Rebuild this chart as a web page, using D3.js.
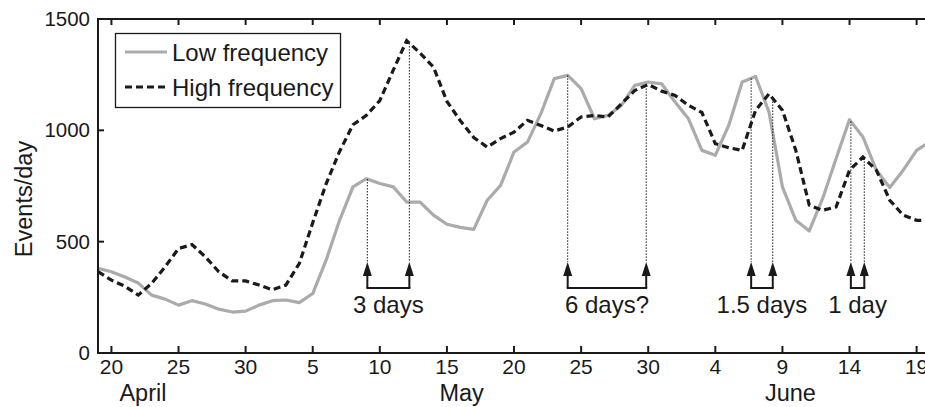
<!DOCTYPE html>
<html>
<head>
<meta charset="utf-8">
<script src="https://cdn.jsdelivr.net/npm/d3@7"></script>
<style>
  html, body { margin: 0; padding: 0; background: #fff; }
  svg { display: block; font-family: "Liberation Sans", Arial, sans-serif; }
</style>
</head>
<body>
<svg id="chart" width="925" height="407"></svg>
<script>
'use strict';

/* days counted from 20 April (= 0) */
const days = d3.range(-1, 62);

const lowFreq = [380, 365, 341, 314, 260, 242, 215, 235, 220, 197, 184, 188, 215, 235, 238, 226,
  267, 417, 596, 746, 783, 761, 746, 678, 678, 619, 578, 564, 555, 686, 753, 903,
  947, 1075, 1232, 1247, 1187, 1052, 1067, 1112, 1202, 1217, 1209, 1127, 1052, 910, 888, 1022,
  1217, 1242, 1082, 746, 596, 548, 694, 873, 1048, 970, 821, 743, 821, 910, 950];

const highFreq = [365, 327, 300, 260, 313, 387, 469, 487, 432, 365, 324, 324, 305, 284, 305, 402,
  585, 760, 905, 1025, 1067, 1134, 1270, 1403, 1347, 1284, 1130, 1043, 968, 925, 963, 992,
  1045, 1022, 997, 1015, 1060, 1067, 1060, 1119, 1179, 1206, 1176, 1157, 1112, 1080, 940, 922,
  910, 1090, 1164, 1090, 910, 664, 641, 656, 821, 880, 821, 686, 619, 596, 596];

const tickDays   = [0, 5, 10, 15, 20, 25, 30, 35, 40, 45, 50, 55, 60];
const tickLabels = ['20', '25', '30', '5', '10', '15', '20', '25', '30', '4', '9', '14', '19'];
const yTicks     = [0, 500, 1000, 1500];

const monthNames = ['April', 'May', 'June'];
const monthDays  = [2.35, 26.1, 50.6];

/* annotated lags: [start day, end day, label] */
const lagStart  = [19.07, 34.0, 47.67, 55.1];
const lagEnd    = [22.2, 39.85, 49.28, 56.1];
const lagLabels = ['3 days', '6 days?', '1.5 days', '1 day'];

const svg = d3.select('#chart');
const L = 98, T = 19, B = 353;
const x = d3.scaleLinear().domain([-1, 61]).range([L, L + 62 * 13.42]);
const y = d3.scaleLinear().domain([0, 1500]).range([B, T]);
const R = x(61);
const ink = '#1a1a1a';

svg.append('defs').append('clipPath').attr('id', 'plot-clip')
  .append('rect').attr('x', L).attr('y', T).attr('width', R - L).attr('height', B - T);

/* Series */
const line = d3.line().x((d, i) => x(days[i])).y(d => y(d));
const plot = svg.append('g').attr('clip-path', 'url(#plot-clip)');

plot.append('path').datum(lowFreq)
  .attr('d', line).attr('fill', 'none')
  .attr('stroke', '#a9abad').attr('stroke-width', 3.2).attr('stroke-linejoin', 'round');

plot.append('path').datum(highFreq)
  .attr('d', line).attr('fill', 'none')
  .attr('stroke', ink).attr('stroke-width', 3.2)
  .attr('stroke-dasharray', '7,4');

/* Lag annotations */
const valAt = (series, d) => {
  const i = Math.floor(d) + 1, f = d - Math.floor(d);
  return series[i] + (series[i + 1] - series[i]) * f;
};
const tipY = 262, baseY = 276, barY = 288;
const ann = svg.append('g');
lagLabels.forEach((lab, k) => {
  [[lagStart[k], lowFreq], [lagEnd[k], highFreq]].forEach(([d, s]) => {
    const xx = x(d);
    ann.append('line')
      .attr('x1', xx).attr('x2', xx).attr('y1', y(valAt(s, d))).attr('y2', tipY)
      .attr('stroke', ink).attr('stroke-width', 1).attr('stroke-dasharray', '1.5,1.5');
    ann.append('path')
      .attr('d', `M${xx},${tipY}L${xx - 4.5},${baseY}L${xx + 4.5},${baseY}Z`).attr('fill', ink);
    ann.append('line')
      .attr('x1', xx).attr('x2', xx).attr('y1', baseY - 1).attr('y2', barY)
      .attr('stroke', ink).attr('stroke-width', 2);
  });
  ann.append('line')
    .attr('x1', x(lagStart[k]) - 1).attr('x2', x(lagEnd[k]) + 1).attr('y1', barY).attr('y2', barY)
    .attr('stroke', ink).attr('stroke-width', 2);
  ann.append('text')
    .attr('x', (x(lagStart[k]) + x(lagEnd[k])) / 2).attr('y', 313)
    .attr('text-anchor', 'middle').style('font-size', '24px').attr('fill', ink)
    .text(lab);
});

/* Frame and ticks */
const frame = svg.append('g').attr('stroke', ink).attr('stroke-width', 2).attr('fill', 'none');
frame.append('path').attr('d', `M${R},${T}H${L}V${B}H${R}`);
tickDays.forEach(d => {
  frame.append('line').attr('x1', x(d)).attr('x2', x(d)).attr('y1', B).attr('y2', B - 7);
  frame.append('line').attr('x1', x(d)).attr('x2', x(d)).attr('y1', T).attr('y2', T + 6);
});
yTicks.forEach(v => {
  frame.append('line').attr('x1', L).attr('x2', L + 6).attr('y1', y(v)).attr('y2', y(v));
});

const labels = svg.append('g').attr('fill', ink);
tickDays.forEach((d, i) => {
  labels.append('text').attr('x', x(d)).attr('y', 374)
    .attr('text-anchor', 'middle').style('font-size', '21px').text(tickLabels[i]);
});
monthNames.forEach((m, i) => {
  labels.append('text').attr('x', x(monthDays[i])).attr('y', 401)
    .attr('text-anchor', 'middle').style('font-size', '23.5px').text(m);
});
yTicks.forEach(v => {
  labels.append('text').attr('x', 90).attr('y', y(v) + 7)
    .attr('text-anchor', 'end').style('font-size', '20.5px').text(v);
});
labels.append('text')
  .attr('transform', 'translate(32,199) rotate(-90)')
  .attr('text-anchor', 'middle').style('font-size', '23.5px').text('Events/day');

/* Legend */
const leg = svg.append('g');
leg.append('rect').attr('x', 115.5).attr('y', 33.5).attr('width', 225).attr('height', 74)
  .attr('fill', '#fff').attr('stroke', ink).attr('stroke-width', 1.3);
[['Low frequency', '#a9abad', null, 52], ['High frequency', ink, '7,4', 87]].forEach(([t, c, dash, yy]) => {
  leg.append('line').attr('x1', 125).attr('x2', 167).attr('y1', yy).attr('y2', yy)
    .attr('stroke', c).attr('stroke-width', 3.2).attr('stroke-dasharray', dash);
  leg.append('text').attr('x', 172).attr('y', yy + 8.5)
    .style('font-size', '24px').attr('fill', ink).text(t);
});
</script>
</body>
</html>
